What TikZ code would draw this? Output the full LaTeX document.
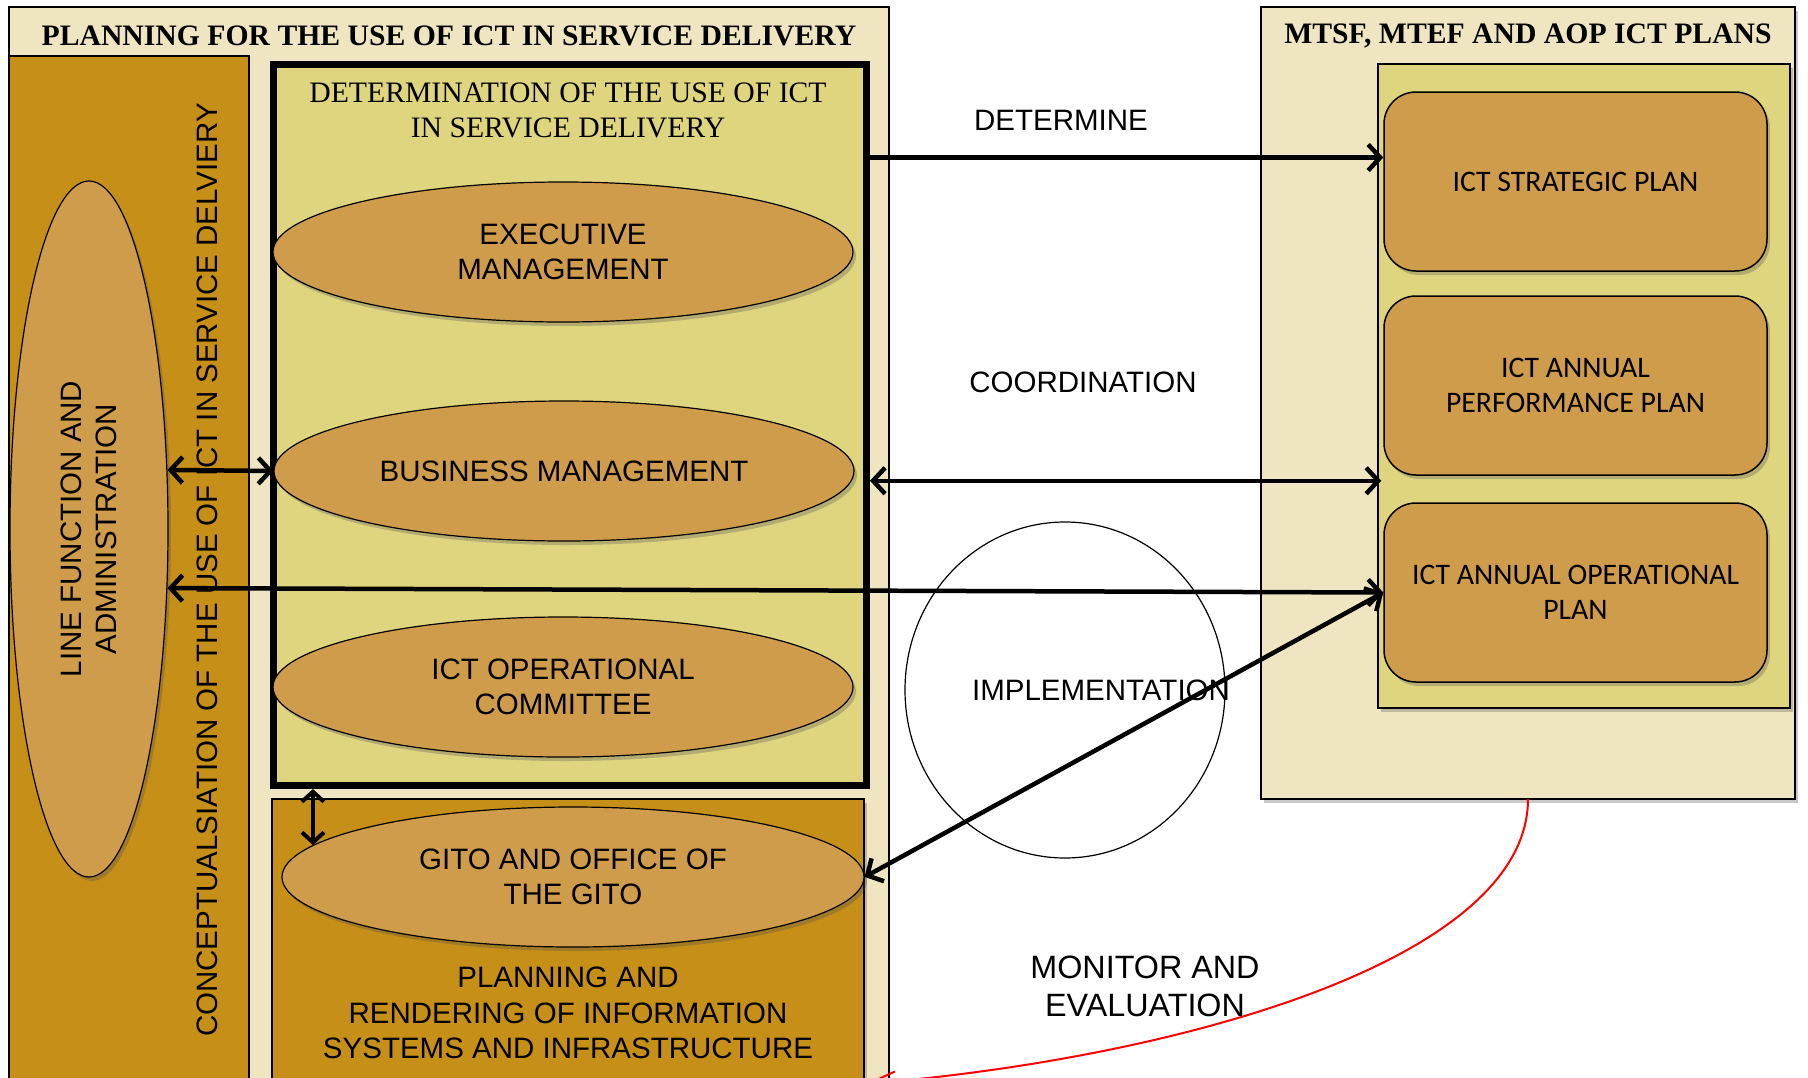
\documentclass[tikz,border=0pt]{standalone}
\usepackage{fontspec}
\setmainfont{Liberation Serif}
\newfontfamily\arialf{Liberation Sans}
\newfontfamily\calf{Carlito}
\usetikzlibrary{arrows.meta,shapes.geometric,shadows,calc}
\definecolor{cream}{HTML}{EFE6C1}
\definecolor{gold}{HTML}{C68F17}
\definecolor{khaki}{HTML}{E0D57F}
\definecolor{ochre}{HTML}{CF9C4B}
\begin{document}
\begin{tikzpicture}[x=1pt,y=-1pt,
  shad/.style={drop shadow={shadow xshift=3pt,shadow yshift=-4pt,opacity=.3,fill=black!70}},
  panel/.style={draw=black,line width=1.2pt,fill=cream,anchor=north west,inner sep=0pt,outer sep=0pt},
  ttl/.style={font=\fontsize{29.7}{35}\selectfont\bfseries,align=center,inner sep=0pt},
  serif/.style={font=\fontsize{29.7}{35}\selectfont,align=center,inner sep=0pt},
  sans/.style={font=\arialf\fontsize{29.5}{35.5}\selectfont,align=center,inner sep=0pt},
  ell/.style={ellipse,draw=black,line width=1.2pt,fill=ochre,inner sep=0pt,
    minimum width=580pt,minimum height=140pt,shad,
    font=\arialf\fontsize{29.5}{35}\selectfont,align=center},
  plan/.style={draw=black,line width=1.5pt,fill=ochre,rounded corners=32pt,inner sep=0pt,
    minimum width=383pt,minimum height=179pt,shad,
    font=\calf\fontsize{29.8}{35.5}\selectfont,align=center},
  arr/.style={line width=4.5pt,-{Straight Barb[length=12pt,width=26pt]}},
  darr/.style={line width=4.5pt,{Straight Barb[length=12pt,width=26pt]}-{Straight Barb[length=12pt,width=26pt]}},
  ]
\useasboundingbox (0,0) rectangle (1808,1077);
\clip (0,0) rectangle (1808,1077);
\fill[white] (0,0) rectangle (1808,1077);

% left panel
\node[panel,minimum width=880pt,minimum height=1100pt] (lp) at (9,7) {};
\node[panel,fill=gold,minimum width=240pt,minimum height=1100pt] (strip) at (9,56) {};
\node[ttl] (lt) at (449,36) {PLANNING FOR THE USE OF ICT IN SERVICE DELIVERY};

% line function ellipse
\node[ell,minimum width=158pt,minimum height=696pt] (lf) at (89,529) {};
\node[sans,rotate=90] (lft) at (89,529) {LINE FUNCTION AND\\ADMINISTRATION};

% determination box
\node[panel,fill=khaki,line width=7pt,minimum width=593pt,minimum height=721pt,shad] (det) at (273,64) {};
\node[serif] (dett) at (568,110) {DETERMINATION OF THE USE OF ICT\\IN SERVICE DELIVERY};
\node[ell] (ex) at (563,252) {EXECUTIVE\\MANAGEMENT};
\node[ell] (bm) at (564,471) {BUSINESS MANAGEMENT};
\node[ell] (oc) at (563,687) {ICT OPERATIONAL\\COMMITTEE};

% planning and rendering box
\node[panel,fill=gold,minimum width=592pt,minimum height=400pt,shad] (pr) at (272,799) {};
\node[ell,minimum width=582pt] (gito) at (573,877) {GITO AND OFFICE OF\\THE GITO};
\node[sans] (prt) at (568,1013) {PLANNING AND\\RENDERING OF INFORMATION\\SYSTEMS AND INFRASTRUCTURE};

% vertical text
\node[sans,rotate=90] (cv) at (207,570) {CONCEPTUALSIATION OF THE USE OF ICT IN SERVICE DELVIERY};

% right panel
\node[panel,minimum width=534pt,minimum height=792pt,shad] (rp) at (1261,7) {};
\node[ttl] (rt) at (1528,36) {MTSF, MTEF AND AOP ICT PLANS};
\node[panel,fill=khaki,minimum width=412pt,minimum height=644pt,shad] (ik) at (1378,64) {};
\node[plan] (sp) at (1575.5,181.5) {ICT STRATEGIC PLAN};
\node[plan] (ap) at (1575.5,385.5) {ICT ANNUAL\\PERFORMANCE PLAN};
\node[plan] (op) at (1575.5,592.5) {ICT ANNUAL OPERATIONAL\\PLAN};

% implementation ellipse
\node[ellipse,draw=black,line width=1.2pt,minimum width=320pt,minimum height=336pt,inner sep=0pt] (impl) at (1065,690) {};

% labels
\node[sans] (ldet) at (1061,120) {DETERMINE};
\node[sans] (lcoo) at (1083,382) {COORDINATION};
\node[sans] (limp) at (1101,690) {IMPLEMENTATION};
\node[sans,font=\arialf\fontsize{32.3}{38}\selectfont] (lmon) at (1145,986) {MONITOR AND\\EVALUATION};

% connectors
\coordinate (dA) at ([yshift=24pt]sp.west);
\draw[arr] (dA -| det.east) -- (dA);
\coordinate (cA) at ([xshift=-2pt,yshift=-5pt]ap.south west);
\draw[darr] ([xshift=4pt]cA -| det.east) -- (cA);
\draw[darr] (lf.37.2) -- (bm.west);
\draw[darr] (lf.-37.6) -- (op.west);
\draw[darr] (gito.east) -- (op.west);
\coordinate (vA) at (gito.173.1);
\draw[line width=4pt,{Straight Barb[length=10pt,width=22pt]}-{Straight Barb[length=10pt,width=22pt]}] ([yshift=-4pt]vA |- det.south) -- (vA);

% monitor and evaluation curve
\coordinate (mEnd) at (865,1084);
\draw[red,line width=2pt,-{Straight Barb[length=28pt,width=20pt]}] (rp.south) .. controls (1528,960) and (1180,1058) .. (mEnd);
\end{tikzpicture}
\end{document}
